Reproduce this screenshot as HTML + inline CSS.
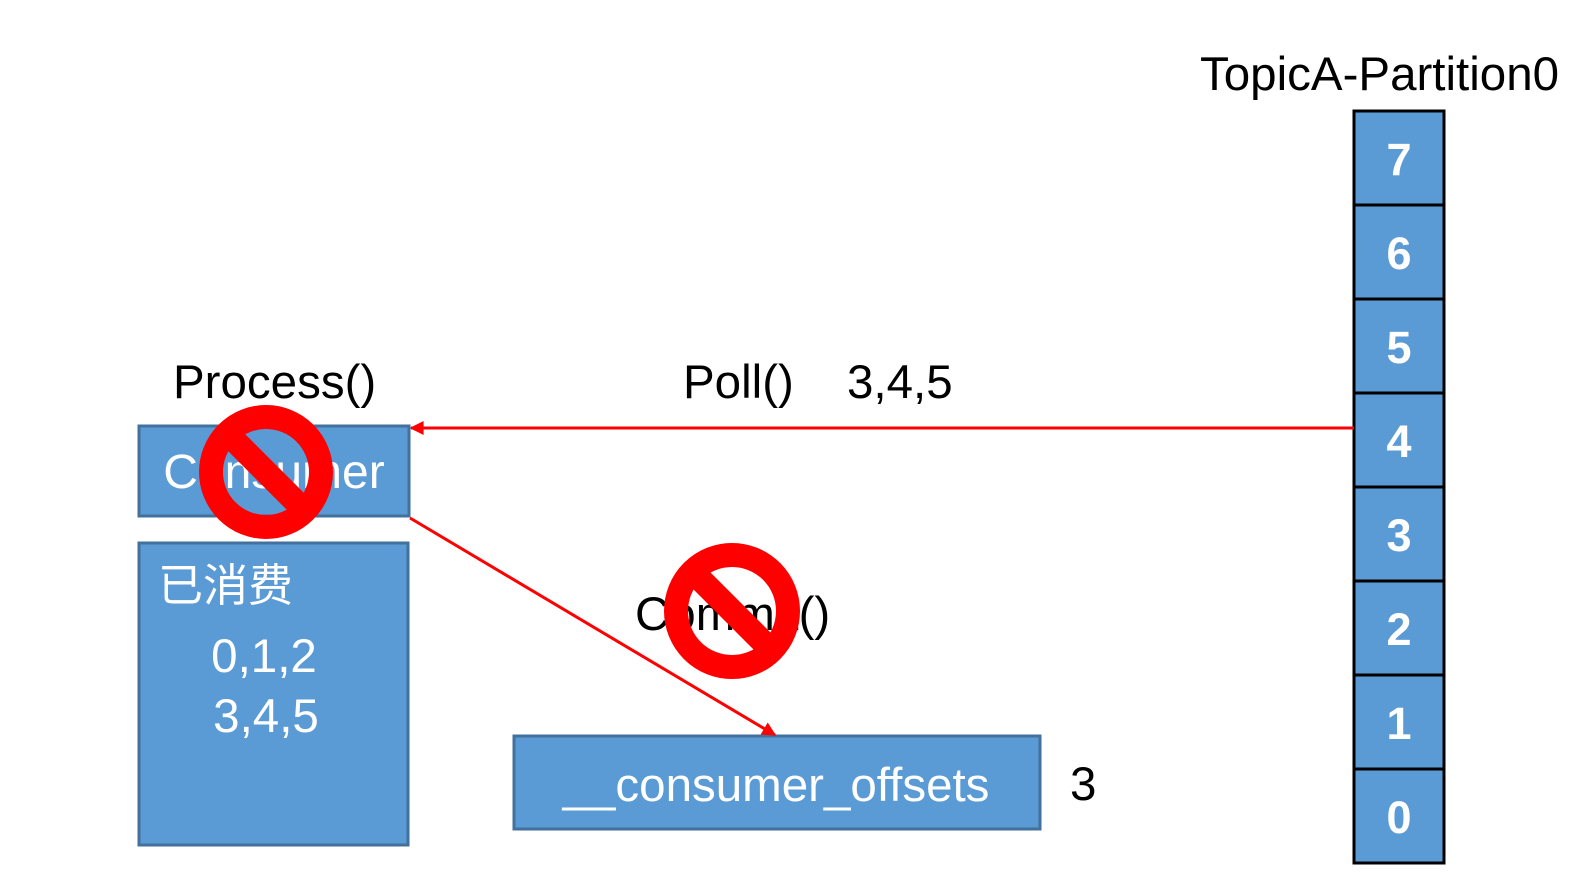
<!DOCTYPE html>
<html><head><meta charset="utf-8"><style>
html,body{margin:0;padding:0;background:#fff;}
svg{display:block;}
text{font-family:"Liberation Sans","Noto Sans CJK SC",sans-serif;}
</style></head><body>
<svg width="1580" height="883" viewBox="0 0 1580 883" xmlns="http://www.w3.org/2000/svg">
<defs>
<marker id="ah2" viewBox="0 0 10 10" markerWidth="16" markerHeight="14" refX="9" refY="5" orient="auto" markerUnits="userSpaceOnUse">
<path d="M0,0 L10,5 L0,10 z" fill="#f00"/></marker>
</defs>
<text x="1200" y="90" font-size="47.5" fill="#000">TopicA-Partition0</text>
<g stroke="#000" stroke-width="3" fill="#5b9bd5">
<rect x="1354" y="111" width="90" height="94"/>
<rect x="1354" y="205" width="90" height="94"/>
<rect x="1354" y="299" width="90" height="94"/>
<rect x="1354" y="393" width="90" height="94"/>
<rect x="1354" y="487" width="90" height="94"/>
<rect x="1354" y="581" width="90" height="94"/>
<rect x="1354" y="675" width="90" height="94"/>
<rect x="1354" y="769" width="90" height="94"/>
</g>
<g fill="#fff" font-size="45" font-weight="bold" text-anchor="middle">
<text x="1399" y="175">7</text><text x="1399" y="269">6</text><text x="1399" y="363">5</text><text x="1399" y="457">4</text>
<text x="1399" y="551">3</text><text x="1399" y="645">2</text><text x="1399" y="739">1</text><text x="1399" y="833">0</text>
</g>
<text x="173" y="398" font-size="47.5">Process()</text>
<text x="683" y="398" font-size="47.5">Poll()</text>
<text x="847" y="398" font-size="47.5">3,4,5</text>
<text x="635" y="630" font-size="47.5">Commit()</text>
<text x="1070" y="800" font-size="47.5">3</text>
<rect x="139" y="426" width="270" height="90" fill="#5b9bd5" stroke="#41719c" stroke-width="3"/>
<text x="274" y="488" font-size="48" fill="#fff" text-anchor="middle">Consumer</text>
<rect x="139" y="543" width="269" height="302" fill="#5b9bd5" stroke="#41719c" stroke-width="3"/>
<text x="158" y="601" font-size="45" fill="#fff">已消费</text>
<text x="264" y="672" font-size="47.5" fill="#fff" text-anchor="middle">0,1,2</text>
<text x="266" y="732" font-size="47.5" fill="#fff" text-anchor="middle">3,4,5</text>
<rect x="514" y="736" width="526" height="93" fill="#5b9bd5" stroke="#41719c" stroke-width="3"/>
<text x="776" y="801" font-size="47.5" fill="#fff" text-anchor="middle">__consumer_offsets</text>
<line x1="1354" y1="428" x2="411" y2="428" stroke="#f00" stroke-width="3" marker-end="url(#ah2)"/>
<line x1="410" y1="518" x2="775" y2="735" stroke="#f00" stroke-width="3" marker-end="url(#ah2)"/>
<g fill="none" stroke="#f00" stroke-width="24">
<circle cx="266" cy="472" r="55"/>
<line x1="228" y1="434" x2="304" y2="510"/>
<circle cx="732" cy="611" r="56"/>
<line x1="694" y1="573" x2="770" y2="649"/>
</g>
</svg>
</body></html>
